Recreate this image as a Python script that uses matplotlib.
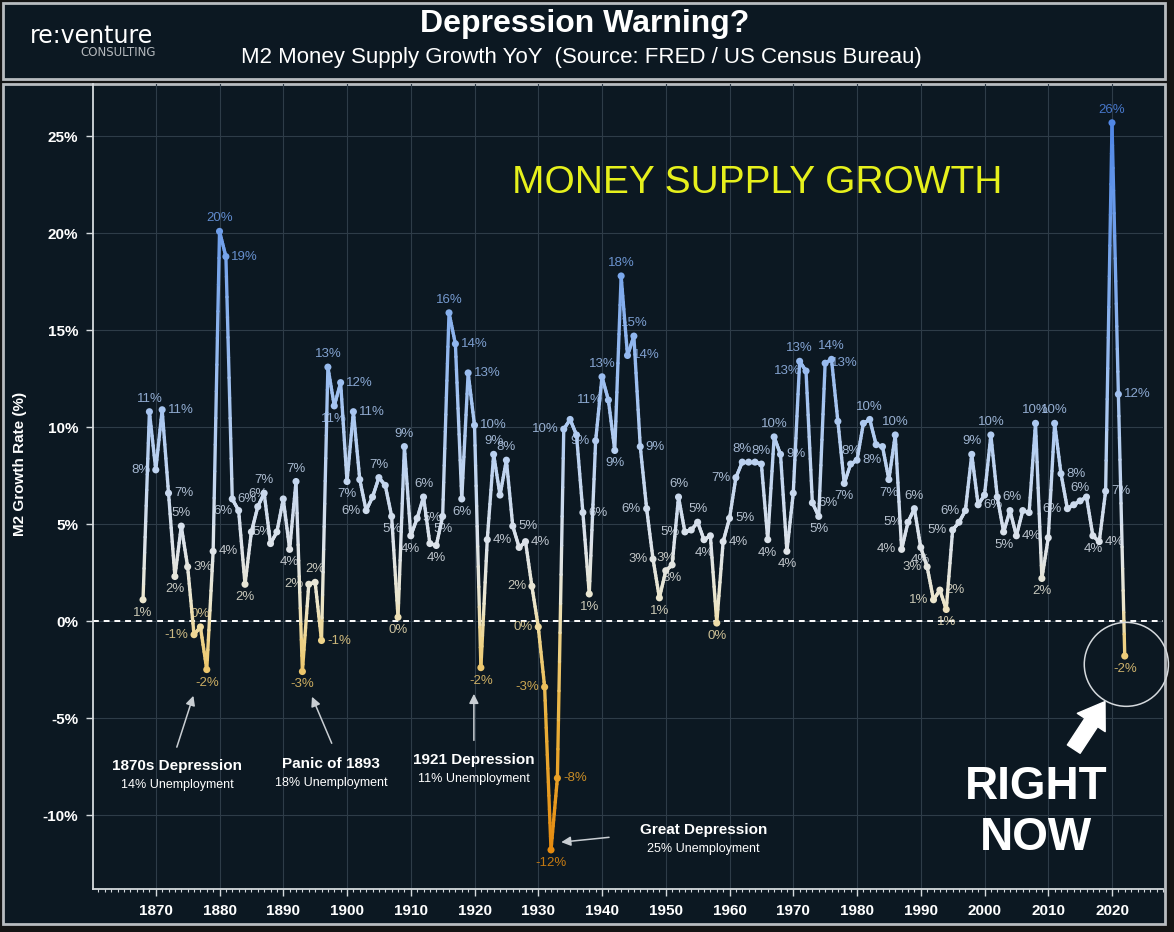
import numpy as np
import matplotlib.pyplot as plt
from matplotlib.collections import LineCollection
from matplotlib.colors import LinearSegmentedColormap, Normalize
from matplotlib.patches import Rectangle, Ellipse

plt.rcParams['font.family'] = ['Liberation Sans', 'DejaVu Sans']

# annual M2 growth (%)
years = list(range(1868, 2023))
m2_growth = [
    1.1, 10.8, 7.8, 10.9, 6.6, 2.3, 4.9, 2.8, -0.7, -0.3, -2.5, 3.6,   # 1868-1879
    20.1, 18.8, 6.3, 5.7, 1.9, 4.6, 5.9, 6.6, 4.0, 4.6,                 # 1880s
    6.3, 3.7, 7.2, -2.6, 1.9, 2.0, -1.0, 13.1, 11.1, 12.3,              # 1890s
    7.2, 10.8, 7.3, 5.7, 6.4, 7.4, 7.0, 5.4, 0.2, 9.0,                  # 1900s
    4.4, 5.3, 6.4, 4.0, 3.9, 5.4, 15.9, 14.3, 6.3, 12.8,                # 1910s
    10.1, -2.4, 4.2, 8.6, 6.5, 8.3, 4.9, 3.8, 4.1, 1.8,                 # 1920s
    -0.3, -3.4, -11.8, -8.1, 9.9, 10.4, 9.6, 5.6, 1.4, 9.3,             # 1930s
    12.6, 11.4, 8.8, 17.8, 13.7, 14.7, 9.0, 5.8, 3.2, 1.2,              # 1940s
    2.6, 2.9, 6.4, 4.6, 4.7, 5.1, 4.2, 4.4, -0.1, 4.1,                  # 1950s
    5.3, 7.4, 8.2, 8.2, 8.2, 8.1, 4.2, 9.5, 8.6, 3.6,                   # 1960s
    6.6, 13.4, 12.9, 6.1, 5.4, 13.3, 13.5, 10.3, 7.1, 8.1,              # 1970s
    8.3, 10.2, 10.4, 9.1, 9.0, 7.3, 9.6, 3.7, 5.1, 5.8,                 # 1980s
    3.8, 2.8, 1.1, 1.6, 0.6, 4.7, 5.1, 5.7, 8.6, 6.0,                   # 1990s
    6.5, 9.6, 6.4, 4.6, 5.7, 4.4, 5.7, 5.6, 10.2, 2.2,                  # 2000s
    4.3, 10.2, 7.6, 5.8, 6.0, 6.2, 6.4, 4.4, 4.1, 6.7,                  # 2010s
    25.7, 11.7, -1.8,                                                   # 2020-2022
]

# which points carry a value label, and where (a=above b=below l=left r=right)
label_years = [
    1868, 1869, 1870, 1871, 1872, 1873, 1874, 1875, 1876, 1877, 1878, 1879,
    1880, 1881, 1882, 1883, 1884, 1886, 1887, 1889, 1891, 1892, 1893, 1894,
    1895, 1896, 1897, 1898, 1899, 1900, 1901, 1903, 1905, 1907, 1908, 1909,
    1910, 1911, 1912, 1914, 1915, 1916, 1917, 1918, 1919, 1920, 1921, 1922,
    1923, 1925, 1926, 1928, 1929, 1930, 1931, 1932, 1933, 1934, 1937, 1938,
    1939, 1940, 1941, 1942, 1943, 1944, 1945, 1946, 1947, 1948, 1949, 1950,
    1951, 1952, 1953, 1955, 1956, 1958, 1959, 1960, 1961, 1962, 1965, 1966,
    1967, 1968, 1969, 1971, 1972, 1973, 1974, 1975, 1976, 1978, 1979, 1980,
    1982, 1985, 1986, 1987, 1988, 1989, 1990, 1991, 1992, 1993, 1994, 1995,
    1997, 1998, 1999, 2001, 2002, 2003, 2005, 2008, 2009, 2011, 2012, 2013,
    2015, 2017, 2018, 2019, 2020, 2021, 2022,
]
label_pos = list(''.join([
    'balrrbarlabr',
    'arrlbaalbabl',
    'arabrbrlabba',
    'brabbarbrrbr',
    'aarrlllbrlrb',
    'lalbararllba',
    'balabbrrlaab',
    'arbalrbrabar',
    'aballabllrbl',
    'lararbrabarl',
    'abrrarb',
]))

# annotation texts
events = ['1870s Depression', 'Panic of 1893', '1921 Depression', 'Great Depression']
event_notes = ['14% Unemployment', '18% Unemployment', '11% Unemployment', '25% Unemployment']
event_text_xy = [(1873.4, -7.7), (1897.5, -7.55), (1919.9, -7.35), (1955.9, -11.0)]
event_arrow_from = [(1873.3, -6.5), (1897.6, -6.3), (1919.9, -6.15), (1941.1, -11.15)]
event_arrow_to = [(1875.9, -3.85), (1894.5, -3.9), (1919.9, -3.75), (1933.6, -11.4)]

bg = '#0c1822'
cmap = LinearSegmentedColormap.from_list('m2', [
    (0.00, '#e68a0e'), (0.18, '#e9b03a'), (0.29, '#efd48a'), (0.34, '#ece6cc'),
    (0.42, '#dde3ea'), (0.53, '#bcd2f0'), (0.63, '#9fc0f0'), (0.79, '#7aa7ec'),
    (1.00, '#4f86e6')])
norm = Normalize(-12, 26)

fig = plt.figure(figsize=(11.74, 9.32), dpi=100, facecolor='#141414')

# panels
fig.patches.append(Rectangle((3/1174, 1-79/932), 1162/1174, 76/932, transform=fig.transFigure,
                             facecolor=bg, edgecolor='#b8bcc0', lw=2, zorder=-10))
fig.patches.append(Rectangle((3/1174, 1-924/932), 1162/1174, 840/932, transform=fig.transFigure,
                             facecolor=bg, edgecolor='#b8bcc0', lw=2, zorder=-10))

fig.text(0.498, 1-24/932, 'Depression Warning?', ha='center', va='center', color='white',
         fontsize=23, weight='bold')
fig.text(0.495, 1-57/932, 'M2 Money Supply Growth YoY  (Source: FRED / US Census Bureau)',
         ha='center', va='center', color='white', fontsize=16)
fig.text(92/1174, 1-36/932, 're:venture', ha='center', va='center', color='white',
         fontsize=17, family='DejaVu Sans')
fig.text(156/1174, 1-52/932, 'CONSULTING', ha='right', va='center', color='#b5b9bd',
         fontsize=8.5, family='DejaVu Sans')
fig.text(20/1174, 0.502, 'M2 Growth Rate (%)', rotation=90, ha='center', va='center',
         color='white', fontsize=11, weight='bold')

ax = fig.add_axes([93.3/1174, 1-888.7/932, (1163-93.3)/1174, (888.7-84)/932])
ax.patch.set_visible(False)
ax.set_xlim(1860.2, 2028.0)
ax.set_ylim(-13.8, 27.7)

x = np.array(years, dtype=float)
y = np.array(m2_growth)

# gradient line, colored by value
segs, vals = [], []
for i in range(len(x) - 1):
    t = np.linspace(0, 1, 13)
    xs = x[i] + (x[i+1] - x[i]) * t
    ys = y[i] + (y[i+1] - y[i]) * t
    for j in range(12):
        segs.append([(xs[j], ys[j]), (xs[j+1], ys[j+1])])
        vals.append((ys[j] + ys[j+1]) / 2)
lc = LineCollection(segs, cmap=cmap, norm=norm, linewidths=2.4, capstyle='round', zorder=3)
lc.set_array(np.array(vals))
ax.add_collection(lc)
ax.scatter(x, y, c=y, cmap=cmap, norm=norm, s=26, zorder=4, linewidths=0)

ax.axhline(0, color='white', ls=(0, (3, 2.5)), lw=1.4, zorder=2)

offsets = {'a': ((0, 5), 'center', 'bottom'), 'b': ((0, -5), 'center', 'top'),
           'l': ((-4, 0), 'right', 'center'), 'r': ((4, 0), 'left', 'center')}
for yr, p in zip(label_years, label_pos):
    v = m2_growth[yr - years[0]]
    off, ha, va = offsets[p]
    ax.annotate(f'{int(np.floor(v + 0.5))}%', (yr, v), xytext=off, textcoords='offset points',
                ha=ha, va=va, fontsize=9.5, color=cmap(norm(v)), alpha=0.85, zorder=5)

for name, note, (tx, ty), a0, a1 in zip(events, event_notes, event_text_xy,
                                         event_arrow_from, event_arrow_to):
    ax.text(tx, ty, name, ha='center', va='baseline', color='white', fontsize=11, weight='bold')
    ax.text(tx, ty - 0.93, note, ha='center', va='baseline', color='white', fontsize=9)
    ax.annotate('', xy=a1, xytext=a0,
                arrowprops=dict(arrowstyle='-|>', color='#c9ced3', lw=1.1, mutation_scale=14,
                                shrinkA=0, shrinkB=0))

ax.text(1964.4, 22.1, 'MONEY SUPPLY GROWTH', ha='center', va='baseline', color='#e6f01c',
        fontsize=28)
ax.text(2008.1, -9.15, 'RIGHT', ha='center', va='baseline', color='white', fontsize=33,
        weight='bold')
ax.text(2008.1, -11.8, 'NOW', ha='center', va='baseline', color='white', fontsize=33,
        weight='bold')
ax.annotate('', xy=(2018.9, -4.15), xytext=(2014.0, -6.6),
            arrowprops=dict(arrowstyle='simple,head_length=0.9,head_width=1.2,tail_width=0.55',
                            fc='white', ec='white', mutation_scale=20, shrinkA=0, shrinkB=0))
ax.add_patch(Ellipse((2022.25, -2.23), 13.2, 4.33, fill=False, ec='#d5d9dd', lw=1.1,
                     zorder=5, clip_on=False))

ax.set_xticks(range(1870, 2021, 10))
ax.set_xticks(range(1861, 2029), minor=True)
ax.set_yticks(range(-10, 26, 5))
ax.set_yticklabels([f'{v}%' for v in range(-10, 26, 5)])
ax.grid(True, which='major', color='#2e3c48', lw=0.8)
ax.set_axisbelow(True)
for s in ['top', 'right']:
    ax.spines[s].set_visible(False)
for s in ['left', 'bottom']:
    ax.spines[s].set_color('#d5dade')
    ax.spines[s].set_linewidth(1.3)
ax.tick_params(which='major', colors='#d5dade', length=5, width=1, labelcolor='white',
               labelsize=11, pad=6)
ax.tick_params(which='minor', colors='#d5dade', length=2.5, width=0.8)
for t in ax.get_xticklabels() + ax.get_yticklabels():
    t.set_fontweight('bold')

fig.savefig('out.png', dpi=100, facecolor=fig.get_facecolor())
